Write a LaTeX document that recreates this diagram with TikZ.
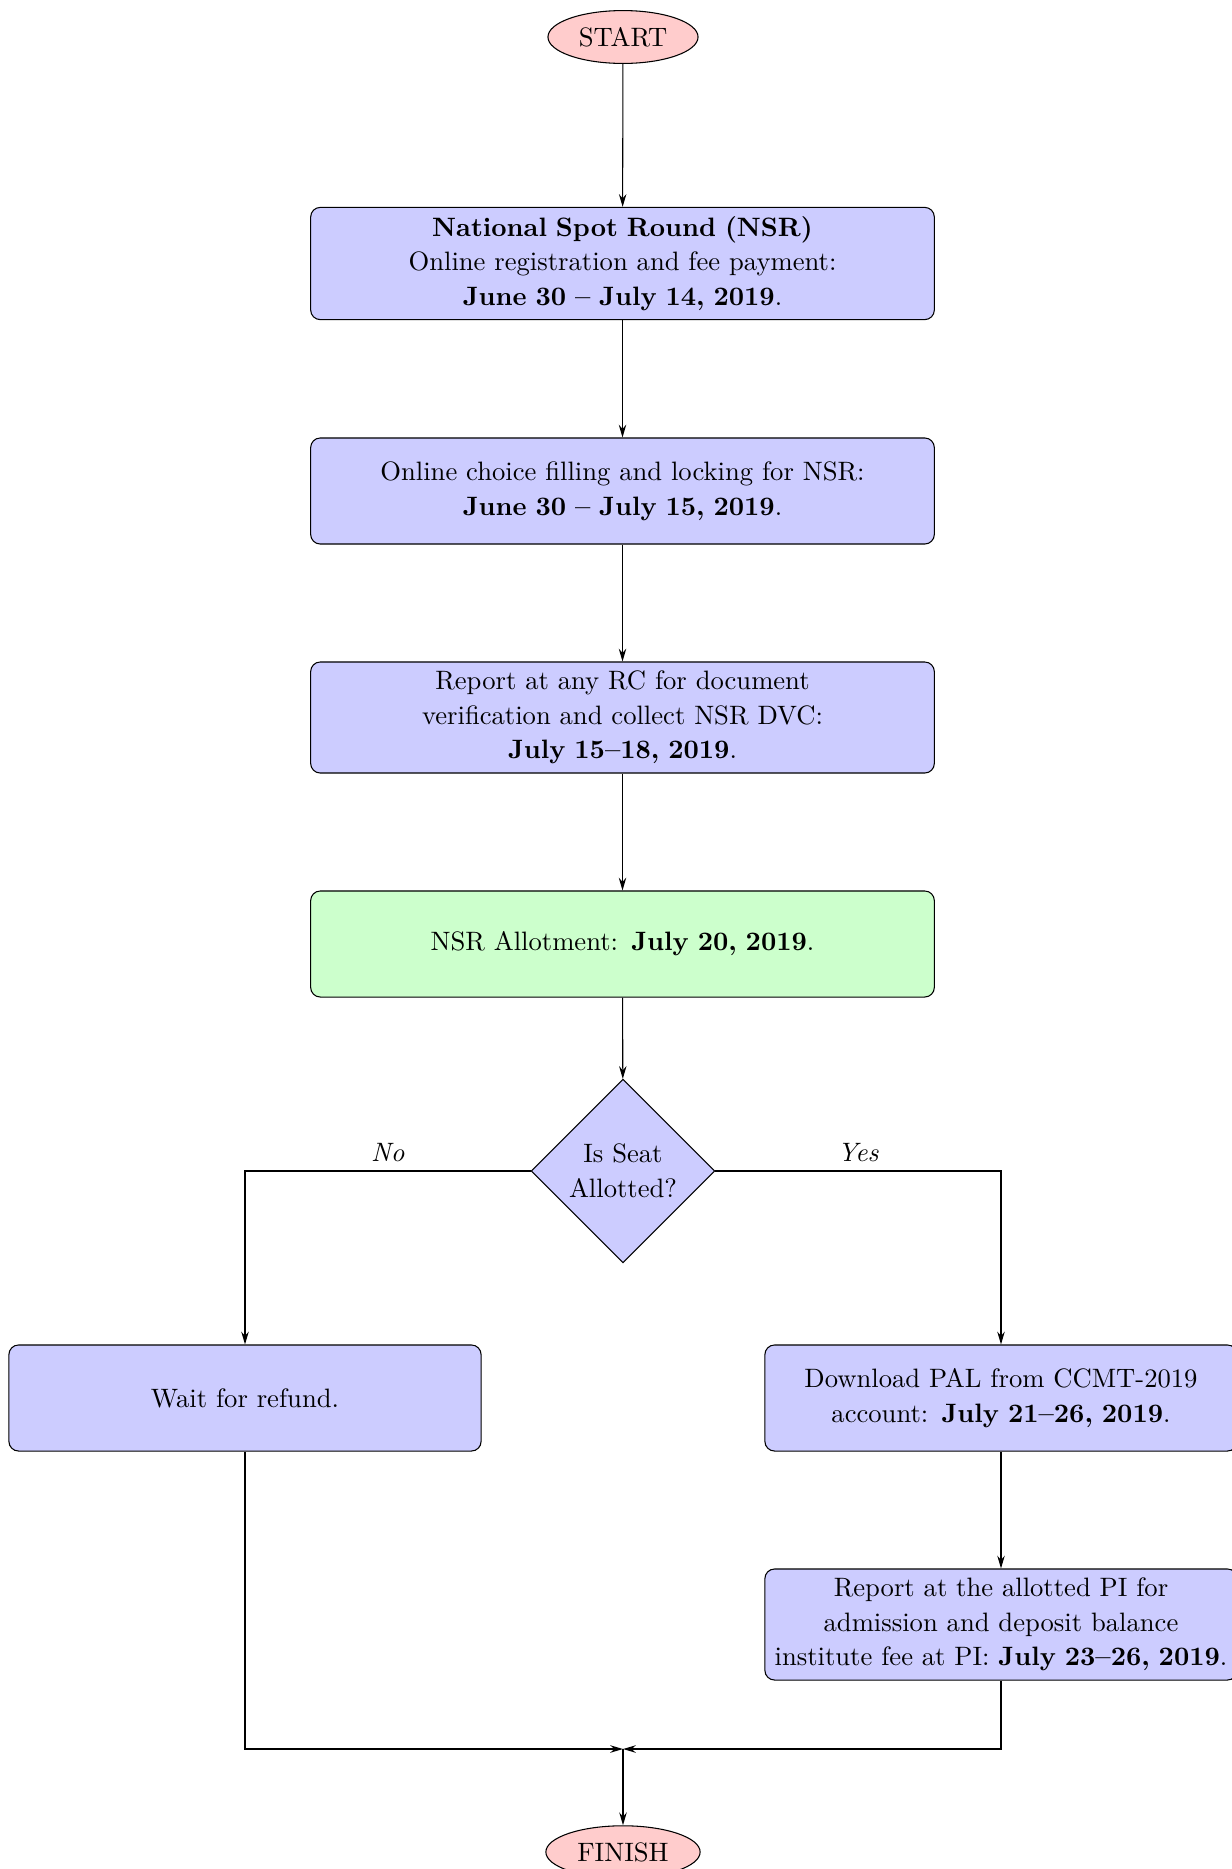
\documentclass[tikz,border=0pt]{standalone}
\usetikzlibrary{shapes.geometric,arrows.meta}
\begin{document}
\begin{tikzpicture}[x=0.37566pt,y=-0.37566pt,
  every node/.style={font=\fontsize{10pt}{13pt}\selectfont},
  mainbox/.style={rectangle,rounded corners=3.6pt,draw=black,fill=blue!20,text width=8cm,inner sep=3.33pt,align=center,minimum height=1.4cm},
  greenbox/.style={mainbox,fill=green!20},
  sidebox/.style={rectangle,rounded corners=3.6pt,draw=black,fill=blue!20,text width=6cm,inner sep=3.33pt,align=center,minimum height=1.4cm},
  term/.style={ellipse,draw=black,fill=red!20},
  decide/.style={diamond,draw=black,fill=blue!20,aspect=1,inner sep=1pt,minimum size=69pt,align=center},
  arr/.style={-{Stealth[length=4.8pt,width=2.8pt,inset=1.6pt]}},
  arrb/.style={semithick,-{Stealth[length=4.8pt,width=2.8pt,inset=1.6pt]}},
  lineb/.style={semithick}]
\clip (0,0) rectangle (1232,1869);
\useasboundingbox (0,0) rectangle (1232,1869);
\node[term] (start) at (623,37) {START};
\node[mainbox] (b1) at (622.5,263.5) {\textbf{National Spot Round (NSR)}\\ Online registration and fee payment:\\ \textbf{June 30 -- July 14, 2019}.};
\node[mainbox] (b2) at (622.5,491) {Online choice filling and locking for NSR:\\ \textbf{June 30 -- July 15, 2019}.};
\node[mainbox] (b3) at (622.5,717.5) {Report at any RC for document\\ verification and collect NSR DVC:\\ \textbf{July 15--18, 2019}.};
\node[greenbox] (b4) at (622.5,944) {NSR Allotment: \textbf{July 20, 2019}.};
\node[decide] (dec) at (623,1171) {Is Seat\\ Allotted?};
\node[sidebox] (left) at (245,1398) {Wait for refund.};
\node[sidebox] (r1) at (1001,1398) {Download PAL from CCMT-2019\\ account: \textbf{July 21--26, 2019}.};
\node[sidebox] (r2) at (1001,1624.5) {Report at the allotted PI for\\ admission and deposit balance\\ institute fee at PI: \textbf{July 23--26, 2019}.};
\coordinate (m) at (623,1749);
\node[term] (finish) at (623,1852) {FINISH};
\draw[arr] (start) -- (b1);
\draw[arr] (b1) -- (b2);
\draw[arr] (b2) -- (b3);
\draw[arr] (b3) -- (b4);
\draw[arr] (b4) -- (dec);
\draw[arrb] (dec.west) -| node[pos=0.25,above] {\textit{No}} (left.north);
\draw[arrb] (dec.east) -| node[pos=0.25,above] {\textit{Yes}} (r1.north);
\draw[arr] (r1) -- (r2);
\draw[arrb] (left.south) |- (m);
\draw[arrb] (r2.south) |- (m);
\draw[arrb] (m) -- (finish);
\end{tikzpicture}
\end{document}
